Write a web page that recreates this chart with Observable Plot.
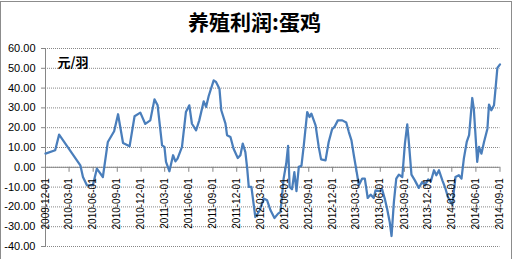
<!DOCTYPE html>
<html>
<head>
<meta charset="utf-8">
<script src="https://cdn.jsdelivr.net/npm/d3@7"></script>
<script src="https://cdn.jsdelivr.net/npm/@observablehq/plot@0.6"></script>
<style>
  html, body { margin: 0; padding: 0; background: #fff; }
  #chart { width: 513px; height: 259px; overflow: hidden; }
</style>
</head>
<body>
<div id="chart"></div>
<script>
const title = "养殖利润:蛋鸡";
const unitLabel = "元/羽";

const dates = [
  "2009-12-01","2010-01-07","2010-01-22","2010-04-13","2010-04-23","2010-05-08","2010-05-31","2010-06-15",
  "2010-07-08","2010-07-27","2010-08-20","2010-09-04","2010-09-23","2010-10-18","2010-11-06","2010-11-28",
  "2010-12-17","2011-01-05","2011-01-21","2011-02-02","2011-02-19","2011-02-28","2011-03-06","2011-03-19",
  "2011-04-02","2011-04-11","2011-04-19","2011-05-06","2011-05-21","2011-06-03","2011-06-13","2011-06-29",
  "2011-07-11","2011-07-28","2011-08-06","2011-08-16","2011-09-04","2011-09-13","2011-09-26","2011-10-03",
  "2011-10-19","2011-10-25","2011-11-07","2011-11-19","2011-12-05","2011-12-15","2011-12-24","2012-01-03",
  "2012-01-10","2012-01-16","2012-01-26","2012-02-10","2012-02-27","2012-03-13","2012-03-26","2012-04-08",
  "2012-04-23","2012-05-07","2012-05-16","2012-05-28","2012-06-07","2012-06-14","2012-06-20","2012-06-29",
  "2012-07-08","2012-07-16","2012-07-25","2012-08-04","2012-08-13","2012-08-26","2012-09-04","2012-09-11",
  "2012-09-27","2012-10-09","2012-10-18","2012-11-04","2012-11-16","2012-11-29","2012-12-08","2012-12-21",
  "2013-01-07","2013-01-22","2013-02-01","2013-02-11","2013-02-20","2013-03-05","2013-03-11","2013-03-24",
  "2013-04-03","2013-04-14","2013-04-25","2013-05-07","2013-05-14","2013-05-29","2013-06-08","2013-06-18",
  "2013-06-27","2013-07-07","2013-07-14","2013-07-23","2013-08-01","2013-08-11","2013-08-24","2013-09-03",
  "2013-09-12","2013-09-18","2013-09-28","2013-10-11","2013-10-26","2013-11-08","2013-11-18","2013-12-01",
  "2013-12-11","2013-12-23","2014-01-01","2014-01-11","2014-01-24","2014-02-05","2014-02-14","2014-03-03",
  "2014-03-15","2014-03-28","2014-04-07","2014-04-16","2014-04-27","2014-05-06","2014-05-18","2014-05-24",
  "2014-06-06","2014-06-13","2014-06-22","2014-07-02","2014-07-15","2014-07-21","2014-07-30","2014-08-09",
  "2014-08-15","2014-08-22","2014-09-01"
];

const profit = [
  6.9, 8.6, 16.5, 1.0, -4.9, -9.1, -9.0, -0.7,
  -4.9, 12.8, 18.2, 26.8, 12.3, 10.6, 25.8, 27.6,
  21.9, 23.7, 34.3, 31.3, 11.1, 10.3, 2.7, -2.0,
  6.1, 3.0, 4.4, 10.3, 27.9, 31.3, 22.0, 18.7,
  23.7, 33.3, 30.5, 36.0, 43.9, 43.1, 39.7, 28.8,
  22.1, 16.2, 15.3, 9.4, 4.7, 6.1, 12.0, 7.7,
  -0.7, -9.9, -9.9, -25.1, -21.7, -15.8, -16.7, -21.7,
  -25.6, -23.4, -22.6, -5.7, 1.9, 10.8, -9.9, -11.1,
  -2.4, -12.0, 0.2, 0.7, 11.1, 27.9, 25.4, 27.1,
  21.2, 10.3, 4.0, 3.5, 12.8, 19.2, 20.4, 23.7,
  23.7, 22.6, 17.8, 13.6, 6.1, -4.0, -9.1, -5.7,
  -5.7, -15.5, -13.8, -15.5, -11.6, -12.0, -11.1, -15.8,
  -20.9, -27.6, -34.7, -17.5, -5.7, -3.7, -4.9, 12.0,
  21.7, 12.8, -3.7, -6.6, -10.4, -7.4, -9.1, -6.1,
  -7.1, -1.5, -4.0, -1.5, -6.6, -10.8, -15.0, -19.0,
  -4.9, -4.0, -5.7, 4.4, 12.8, 16.2, 35.0, 29.6,
  2.7, 10.3, 6.9, 12.8, 19.5, 31.7, 28.8, 31.3,
  39.7, 50.2, 52.0
];

const xTickLabels = [
  "2009-12-01","2010-03-01","2010-06-01","2010-09-01","2010-12-01",
  "2011-03-01","2011-06-01","2011-09-01","2011-12-01",
  "2012-03-01","2012-06-01","2012-09-01","2012-12-01",
  "2013-03-01","2013-06-01","2013-09-01","2013-12-01",
  "2014-03-01","2014-06-01","2014-09-01"
];
const yTicks = [-40, -30, -20, -10, 0, 10, 20, 30, 40, 50, 60];

const parse = d3.utcParse("%Y-%m-%d");
const series = dates.map((d, i) => ({date: parse(d), value: profit[i]}));
const xTicks = xTickLabels.map(parse);

const axisGray = "#868686";
const latin = "'Liberation Sans', Arial, sans-serif";
const cjk = "'Noto Sans CJK SC', sans-serif";

const chart = Plot.plot({
  width: 513,
  height: 259,
  marginLeft: 45,
  marginRight: 13.5,
  marginTop: 48,
  marginBottom: 13,
  style: {fontFamily: latin, fontSize: "11px", background: "#fff", color: "#000"},
  x: {type: "utc", domain: [xTicks[0], xTicks[xTicks.length - 1]], axis: null},
  y: {domain: [-40, 60], axis: null},
  marks: [
    Plot.ruleY(yTicks, {stroke: axisGray, strokeWidth: 1, strokeDasharray: "1,1"}),
    Plot.ruleX([xTicks[0]], {stroke: axisGray, strokeWidth: 1}),
    Plot.ruleY([0], {stroke: axisGray, strokeWidth: 1}),
    Plot.ruleX(xTicks, {x: d => d, y1: 0, y2: 0, insetBottom: -5, stroke: axisGray}),
    Plot.axisY({
      ticks: yTicks,
      tickFormat: d => d.toFixed(2),
      tickSize: 4,
      tickPadding: 6,
      stroke: axisGray,
      fill: "#000",
      fontSize: 11,
      label: null
    }),
    Plot.line(series, {
      x: "date", y: "value",
      stroke: "#4a7ebb", strokeWidth: 2.25,
      strokeLinejoin: "round", strokeLinecap: "round"
    }),
    Plot.text(xTicks, {
      x: d => d, y: () => 0,
      text: (d, i) => xTickLabels[i],
      rotate: -90,
      textAnchor: "end",
      dy: 11,
      fontSize: 10,
      fill: "#000"
    }),
    Plot.text([title], {
      frameAnchor: "top-left",
      lineAnchor: "middle",
      text: d => d,
      dx: 209, dy: -25,
      textAnchor: "middle",
      fontFamily: cjk, fontSize: 21, fontWeight: "bold",
      fill: "#000"
    }),
    Plot.text([unitLabel], {
      frameAnchor: "top-left",
      lineAnchor: "middle",
      text: d => d,
      dx: 12, dy: 14,
      textAnchor: "start",
      fontFamily: cjk, fontSize: 13, fontWeight: "bold",
      fill: "#000"
    })
  ]
});

d3.select(chart).append("rect")
  .attr("x", 0.5).attr("y", 1.5)
  .attr("width", 511).attr("height", 300)
  .attr("fill", "none").attr("stroke", "#8c8c8c");

document.getElementById("chart").appendChild(chart);
</script>
</body>
</html>
